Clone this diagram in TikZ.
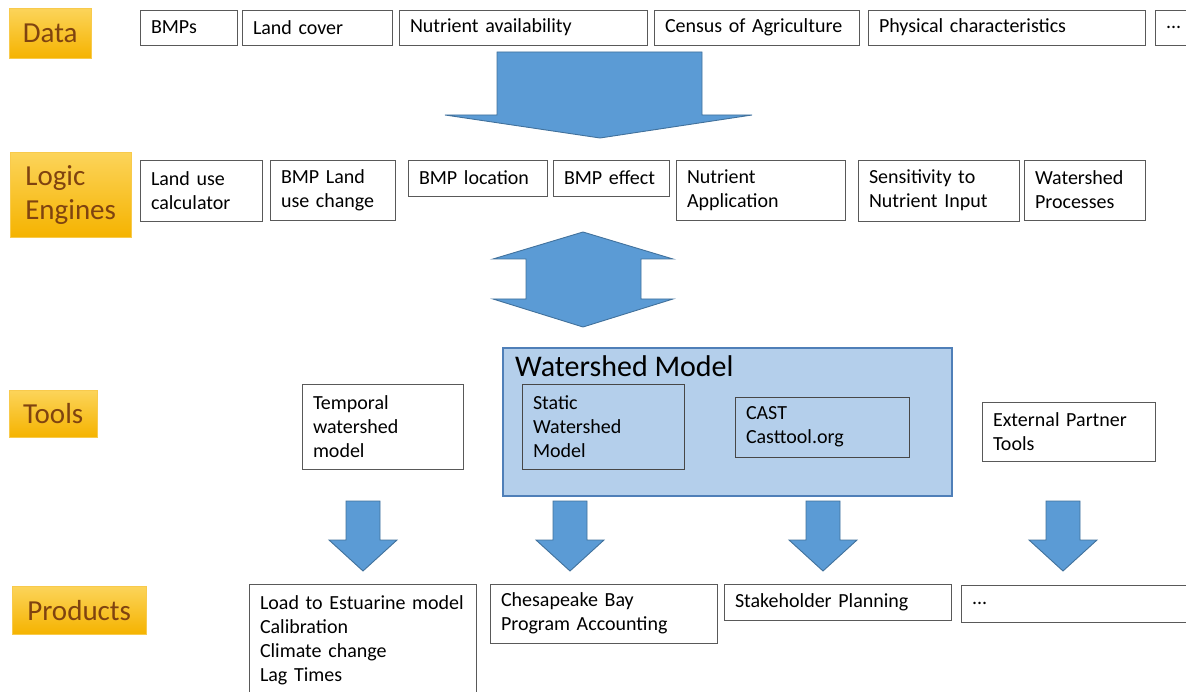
\documentclass[tikz,border=0pt]{standalone}
\usepackage{fontspec}
\setmainfont{Carlito}
\usetikzlibrary{positioning}
\definecolor{arrowblue}{HTML}{5B9BD5}
\definecolor{arrowedge}{HTML}{41719C}
\definecolor{modelfill}{HTML}{B4CFEB}
\definecolor{modeledge}{HTML}{4F7FB8}
\definecolor{boxedge}{HTML}{595959}
\definecolor{goldtop}{HTML}{FCD45A}
\definecolor{goldbot}{HTML}{F5B300}
\definecolor{labtext}{HTML}{7F4310}
\newcommand{\boxfont}{\fontsize{20}{24}\selectfont}
\newcommand{\labfont}{\fontsize{29}{34}\selectfont}

\begin{document}
\begin{tikzpicture}[x=1pt, y=-1pt,
   item/.style={draw=boxedge, line width=0.9pt, fill=white, anchor=north west, align=left,
               inner xsep=11pt, inner ysep=0pt, outer sep=0pt, font=\boxfont},
   sz/.style 2 args={minimum width=#1pt, minimum height=#2pt, text width=#1pt-22pt},
   inner/.style={item, fill=modelfill, draw=boxedge!80!black},
   stage/.style={top color=goldtop, bottom color=goldbot, draw=goldbot!70, anchor=north west,
               text=labtext, font=\labfont, inner sep=0pt, align=left},
   blockarrow/.style={fill=arrowblue, draw=arrowedge, line width=0.9pt, line join=miter}]
  \useasboundingbox (0,0) rectangle (1186,692);

  % stage labels
  \node[stage, minimum width=82pt, minimum height=50pt] (data) at (9,8) {Data};
  \node[stage, minimum width=121pt, minimum height=85pt] (logic) at (10,152) {Logic\\Engines};
  \node[stage, minimum width=88pt, minimum height=47pt] (tools) at (9,390) {Tools};
  \node[stage, minimum width=134pt, minimum height=48pt] (products) at (12,586) {Products};

  % data row
  \node[item, sz={97}{35}] (bmps) at (140,10) {BMPs};
  \node[item, sz={150}{35}, right=5pt of bmps] (cover) {Land cover};
  \node[item, sz={248}{35}, right=7pt of cover] (avail) {Nutrient availability};
  \node[item, sz={205}{35}, right=7pt of avail] (census) {Census of Agriculture};
  \node[item, sz={277}{35}, right=9pt of census] (phys) {Physical characteristics};
  \node[item, sz={60}{35}, right=10pt of phys] (moredata) {...};

  % logic engines row
  \node[item, sz={122}{61}] (landuse) at (140,160) {Land use\\calculator};
  \node[item, sz={125}{60}, right=8pt of landuse.north east, anchor=north west] (bmpland) {BMP Land\\use change};
  \node[item, sz={139}{36}, right=13pt of bmpland.north east, anchor=north west] (bmploc) {BMP location};
  \node[item, sz={116}{36}, right=6pt of bmploc.north east, anchor=north west] (bmpeff) {BMP effect};
  \node[item, sz={169}{60}, right=7pt of bmpeff.north east, anchor=north west] (napp) {Nutrient\\Application};
  \node[item, sz={161}{61}, right=13pt of napp.north east, anchor=north west] (sens) {Sensitivity to\\Nutrient Input};
  \node[item, sz={121}{60}, right=5pt of sens.north east, anchor=north west] (wproc) {Watershed\\Processes};

  % tools row
  \node[draw=modeledge, line width=1.8pt, fill=modelfill, anchor=north west,
        minimum width=449pt, minimum height=148pt] (wm) at (502,347) {};
  \node[anchor=base west, inner sep=0pt, font=\fontsize{30}{36}\selectfont] (wmtitle) at (515,377) {Watershed Model};
  \node[inner, sz={162}{85}] (static) at (522,384) {Static\\Watershed\\Model};
  \node[inner, sz={174}{60}] (cast) at (735,397) {CAST\\Casttool.org};
  \node[item, sz={161}{85}] (temporal) at (302,384) {Temporal\\watershed\\model};
  \node[item, sz={173}{59}] (partner) at (982,402) {External Partner\\Tools};

  % products row
  \node[item, sz={227}{112}] (load) at (249,584) {Load to Estuarine model\\Calibration\\Climate change\\Lag Times};
  \node[item, sz={227}{59}] (cbp) at (490,584) {Chesapeake Bay\\Program Accounting};
  \node[item, sz={227}{36}] (stake) at (724,584) {Stakeholder Planning};
  \node[item, sz={260}{37}] (moreprod) at (961,585) {...};

  % block arrows
  \draw[blockarrow] (497,52) -- (702,52) -- (702,115) -- (752,115) -- (600,138)
        -- (445,115) -- (497,115) -- cycle;
  \draw[blockarrow] (583,232) -- (673,259) -- (641,259) -- (641,299) -- (673,299) -- (583,327)
        -- (493,299) -- (526,299) -- (526,259) -- (493,259) -- cycle;
  \foreach \cx in {363,570,823,1063}
    \draw[blockarrow] (\cx-17,501) -- (\cx+17,501) -- (\cx+17,540) -- (\cx+34,540) -- (\cx,571)
          -- (\cx-34,540) -- (\cx-17,540) -- cycle;
\end{tikzpicture}
\end{document}
